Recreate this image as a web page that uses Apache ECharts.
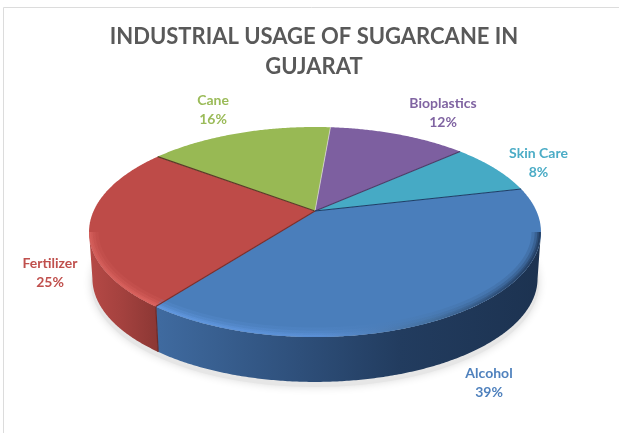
<!DOCTYPE html>
<html>
<head>
<meta charset="utf-8">
<style>html,body{margin:0;padding:0;background:#fff}#c{width:619px;height:433px}</style>
<script src="https://cdn.jsdelivr.net/npm/echarts@6/dist/echarts.min.js"></script>
</head>
<body>
<div id="c"></div>
<script>
var categories = ['Alcohol', 'Fertilizer', 'Cane', 'Bioplastics', 'Skin Care'];
var shares = [39, 25, 16, 12, 8];
var titleText = 'INDUSTRIAL USAGE OF SUGARCANE IN\nGUJARAT';

var topColors = ['#4a7ebb', '#be4b48', '#98b954', '#7d5fa0', '#46aac5'];
var edgeColors = ['#7a2e2b', '#5a3a28', '#dfe3d2', '#4b3a66', '#1d3d66'];
var labelColors = ['#4f81bd', '#c0504d', '#9bbb59', '#8064a2', '#4bacc6'];
var labelAnchors = [[489, 382.5], [50, 273], [213, 109.5], [443, 112.5], [538.5, 162.5]];

var FIRST_ANGLE = 76.8, APEX_X = 315, APEX_Y = 211, HALF_W = 221.4, HALF_H = 100.8, TILT = 0.2;
var RIGHT_LIMIT = 101.5, LEFT_LIMIT = 258.5;
var total = shares.reduce(function (a, b) { return a + b; }, 0);

function rim(deg) {
  var r = deg * Math.PI / 180, u = Math.sin(r), v = Math.cos(r), w = 1 + TILT * v;
  return [APEX_X + HALF_W * u / w, APEX_Y - HALF_H * v / w];
}
function lower(p) {
  return [314 + (p[0] - 314) * 0.985, 232 + (p[1] - 232) * 0.985 + 46.5];
}
function inset(amount) {
  return function (p) {
    return [p[0] + (314 - p[0]) * amount / 226, p[1] + (232 - p[1]) * amount / 105];
  };
}
function arcPts(a, b, fn) {
  var out = [], n = Math.max(2, Math.ceil(Math.abs(b - a) * 2));
  for (var i = 0; i <= n; i++) {
    var p = rim(a + (b - a) * i / n);
    out.push(fn ? fn(p) : p);
  }
  return out;
}
function grad(stops) {
  return {
    type: 'linear', x: 85, y: 0, x2: 545, y2: 0, global: true,
    colorStops: stops.map(function (s) { return { offset: (s[0] - 85) / 460, color: s[1] }; })
  };
}
var sideFill = [
  grad([[85, '#3c6597'], [160, '#3f6a9f'], [300, '#2e4f7a'], [400, '#223c5f'], [545, '#1c3250']]),
  grad([[85, '#b84a47'], [120, '#a5423f'], [165, '#873532'], [545, '#873532']])
];
var bevelFill = [
  grad([[85, '#5f95dc'], [160, '#6198e0'], [320, '#5b90d6'], [430, '#44709f'], [500, '#2c4c75'], [545, '#1f3758']]),
  grad([[85, '#d45f5b'], [160, '#dd6460'], [545, '#dd6460']])
];

function renderSlice(params, api) {
  var i = api.value(0), before = 0;
  for (var k = 0; k < i; k++) before += shares[k];
  var a = FIRST_ANGLE + before / total * 360;
  var b = a + api.value(1) / total * 360;
  var kids = [];
  var sa = Math.max(a, RIGHT_LIMIT), sb = Math.min(b, LEFT_LIMIT);
  var hasSide = sb > sa;
  if (hasSide) {
    var upper = arcPts(sa, sb), low = arcPts(sb, sa, lower);
    kids.push({ type: 'polygon', z2: 1, shape: { points: upper.concat(low) }, style: { fill: sideFill[i], stroke: null } });
  }
  kids.push({
    type: 'polygon', z2: 2,
    shape: { points: [[APEX_X, APEX_Y]].concat(arcPts(a, b)) },
    style: { fill: topColors[i], stroke: null }
  });
  if (hasSide) {
    [[5.5, 8, 0.18], [3.8, 5, 0.3], [2.2, 3, 0.5], [1, 2, 0.85]].forEach(function (band) {
      kids.push({
        type: 'polyline', z2: 3, shape: { points: arcPts(sa, sb, inset(band[0])) },
        style: { fill: null, stroke: bevelFill[i], lineWidth: band[1], opacity: band[2] }
      });
    });
  }
  var endP = rim(b);
  kids.push({
    type: 'line', z2: 20, shape: { x1: APEX_X, y1: APEX_Y, x2: endP[0], y2: endP[1] },
    style: { stroke: edgeColors[i], lineWidth: i === 2 ? 0.7 : 1.1 }
  });
  if (i === 0) {
    var lowP = lower(endP);
    kids.push({
      type: 'line', z2: 20, shape: { x1: endP[0], y1: endP[1], x2: lowP[0], y2: lowP[1] },
      style: { stroke: '#6d2a28', lineWidth: 1.2 }
    });
  }
  kids.push({
    type: 'text', z2: 50,
    style: {
      x: labelAnchors[i][0], y: labelAnchors[i][1],
      text: categories[i] + '\n' + api.value(1) + '%',
      align: 'center', verticalAlign: 'middle',
      font: 'bold 14px Lato', lineHeight: 19, fill: labelColors[i]
    }
  });
  return { type: 'group', children: kids };
}

var chart = echarts.init(document.getElementById('c'));
chart.setOption({
  animation: false,
  backgroundColor: '#ffffff',
  title: {
    text: titleText, left: 309, top: 17, textAlign: 'center',
    textStyle: { fontFamily: 'Lato', fontWeight: 'bold', fontSize: 22, lineHeight: 30, color: '#595959' }
  },
  graphic: [
    { type: 'line', shape: { x1: 3.5, y1: 7.5, x2: 619, y2: 7.5 }, style: { stroke: '#dcdcdc', lineWidth: 1 } },
    { type: 'line', shape: { x1: 3.5, y1: 7.5, x2: 3.5, y2: 433 }, style: { stroke: '#dcdcdc', lineWidth: 1 } },
    {
      type: 'ellipse', shape: { cx: 315, cy: 283, rx: 224, ry: 104 },
      style: { fill: '#e6e6e6', shadowBlur: 9, shadowColor: '#dddddd' }
    }
  ],
  series: [{
    type: 'custom',
    coordinateSystem: 'none',
    name: 'Industrial usage',
    renderItem: renderSlice,
    data: shares.map(function (v, i) { return { name: categories[i], value: [i, v] }; })
  }]
});
</script>
</body>
</html>
